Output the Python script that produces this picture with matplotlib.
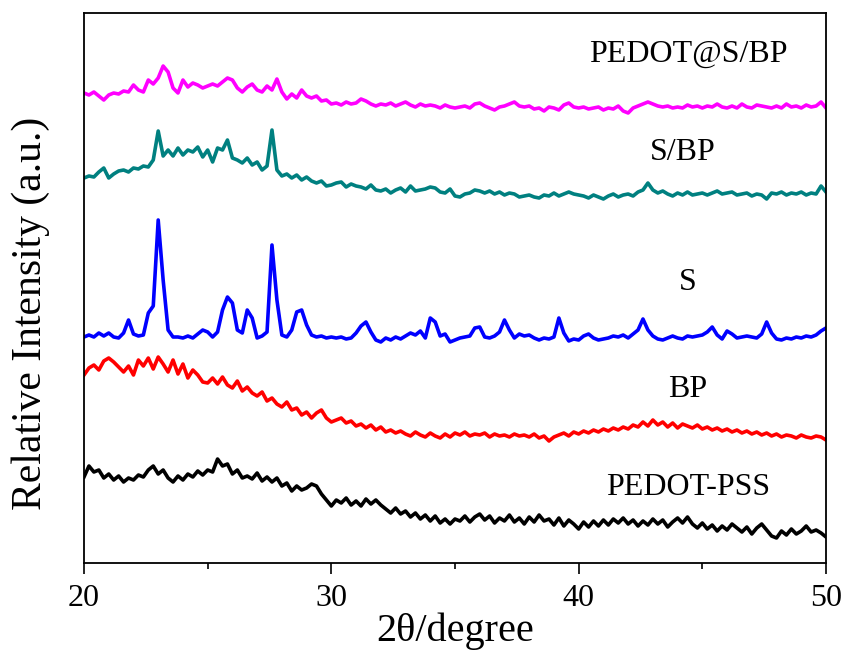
import numpy as np
import matplotlib
matplotlib.use("Agg")
import matplotlib.pyplot as plt
from matplotlib.ticker import MultipleLocator

plt.rcParams['font.family'] = ['Liberation Serif', 'DejaVu Serif']

# 2theta grid (0.2 degree step)
two_theta = np.round(np.arange(20.0, 50.001, 0.2), 1)

pedot_s_bp = [
    470, 468, 471, 467, 463, 468, 470, 469, 472, 471,
    478, 473, 471, 483, 479, 485, 497, 491, 475, 470,
    483, 476, 480, 478, 475, 477, 479, 477, 481, 485,
    483, 475, 471, 476, 479, 473, 471, 477, 473, 484,
    471, 464, 469, 465, 473, 467, 465, 467, 462, 463,
    459, 460, 458, 461, 459, 460, 464, 462, 459, 457,
    459, 458, 460, 457, 459, 461, 458, 456, 459, 457,
    458, 457, 455, 458, 456, 455, 456, 457, 455, 459,
    460, 457, 455, 453, 456, 457, 459, 461, 457, 456,
    457, 454, 455, 452, 456, 455, 453, 458, 460, 456,
    455, 456, 454, 455, 456, 453, 455, 454, 457, 452,
    450, 455, 457, 459, 461, 459, 457, 456, 457, 455,
    456, 455, 458, 456, 457, 455, 457, 456, 459, 456,
    455, 457, 455, 459, 456, 455, 458, 457, 456, 455,
    457, 455, 459, 456, 457, 455, 458, 456, 457, 461,
    455]

s_bp = [
    385, 387, 386, 391, 395, 385, 389, 392, 393, 391,
    395, 394, 397, 396, 403, 432, 407, 413, 407, 415,
    408, 413, 411, 416, 406, 413, 401, 415, 413, 423,
    405, 403, 400, 405, 398, 401, 393, 397, 433, 393,
    387, 389, 385, 388, 383, 386, 382, 380, 382, 377,
    378, 380, 381, 376, 379, 377, 376, 374, 378, 373,
    372, 374, 370, 373, 375, 371, 377, 372, 373, 374,
    376, 375, 371, 370, 374, 367, 366, 369, 370, 373,
    372, 370, 372, 369, 371, 368, 370, 369, 366, 367,
    368, 366, 365, 368, 367, 370, 367, 369, 371, 369,
    368, 367, 365, 368, 366, 364, 367, 369, 366, 368,
    369, 367, 371, 373, 380, 373, 370, 372, 369, 367,
    370, 368, 371, 368, 369, 370, 368, 370, 372, 369,
    370, 371, 368, 369, 370, 367, 369, 368, 364, 370,
    369, 371, 368, 370, 369, 371, 368, 370, 369, 377,
    371]

sulfur = [
    226, 228, 226, 230, 227, 230, 226, 225, 230, 243,
    229, 227, 228, 250, 257, 343, 283, 233, 226, 226,
    225, 227, 225, 229, 233, 231, 226, 231, 253, 266,
    260, 233, 230, 253, 245, 225, 227, 231, 318, 263,
    228, 226, 233, 251, 253, 238, 228, 226, 227, 225,
    226, 225, 226, 224, 225, 230, 237, 241, 231, 223,
    221, 225, 223, 226, 224, 227, 230, 228, 232, 225,
    245, 241, 227, 229, 221, 223, 225, 226, 227, 235,
    236, 226, 225, 227, 231, 243, 233, 225, 229, 227,
    228, 225, 223, 225, 224, 226, 245, 230, 222, 224,
    223, 227, 229, 225, 223, 224, 225, 227, 226, 228,
    225, 229, 233, 244, 233, 227, 224, 223, 225, 227,
    225, 224, 227, 226, 227, 228, 231, 236, 228, 224,
    232, 229, 225, 226, 227, 226, 225, 229, 241, 230,
    224, 223, 225, 224, 226, 225, 227, 226, 228, 232,
    235]

bp = [
    188, 195, 198, 193, 202, 205, 201, 196, 191, 197,
    188, 203, 197, 205, 194, 206, 199, 191, 203, 189,
    199, 185, 193, 188, 181, 180, 185, 179, 186, 178,
    175, 182, 172, 176, 170, 167, 171, 162, 165, 159,
    156, 161, 153, 155, 148, 151, 145, 150, 153, 145,
    141, 143, 145, 140, 142, 137, 139, 135, 138, 133,
    136, 131, 133, 130, 132, 129, 127, 131, 128, 126,
    130, 127, 125, 129, 126, 130, 128, 131, 127, 129,
    128, 130, 126, 129, 127, 128, 126, 129, 127, 128,
    126, 129, 125, 127, 122, 126, 128, 130, 127, 131,
    129, 132, 130, 133, 131, 134, 132, 135, 133, 136,
    134, 138, 136, 141, 137, 143, 138, 141, 136, 140,
    135, 139, 137, 135, 138, 134, 136, 133, 135, 132,
    134, 131, 133, 130, 132, 129, 131, 128, 130, 127,
    129, 126, 128, 127, 125, 128, 126, 125, 127, 126,
    123]

pedot_pss = [
    86, 97, 91, 93, 85, 89, 83, 87, 81, 85,
    83, 88, 86, 93, 97, 89, 93, 85, 81, 87,
    83, 89, 86, 92, 88, 93, 91, 104, 97, 99,
    89, 93, 85, 87, 84, 90, 82, 86, 81, 85,
    77, 80, 72, 77, 73, 75, 79, 77, 69, 63,
    57, 63, 60, 65, 58, 62, 57, 64, 59, 63,
    58, 54, 50, 55, 49, 52, 46, 50, 44, 48,
    42, 47, 40, 44, 39, 44, 42, 47, 41, 46,
    49, 43, 47, 40, 45, 42, 48, 41, 45, 39,
    46, 41, 48, 42, 44, 38, 45, 37, 43, 39,
    34, 41, 36, 42, 37, 43, 38, 44, 40, 45,
    39, 43, 37, 42, 38, 44, 39, 43, 36, 41,
    45, 40, 46, 39, 35, 40, 34, 38, 32, 37,
    33, 39, 35, 31, 36, 29, 35, 39, 33, 27,
    25, 32, 28, 34, 29, 32, 37, 31, 33, 30,
    26]

names = ["PEDOT@S/BP", "S/BP", "S", "BP", "PEDOT-PSS"]
colors = ["#ff00ff", "#008080", "#0000ff", "#ff0000", "#000000"]
series = [pedot_s_bp, s_bp, sulfur, bp, pedot_pss]
label_x = [44.42, 44.2, 44.42, 44.42, 44.42]
label_y = [501, 403, 273, 166, 68]

fig = plt.figure(figsize=(8.45, 6.53), dpi=100)
ax = fig.add_axes([84 / 845, 90 / 653, 742 / 845, 550 / 653])

for vals, c in zip(series, colors):
    ax.plot(two_theta, vals, color=c, lw=2.6, solid_joinstyle="round")

for name, lx, ly in zip(names, label_x, label_y):
    ax.text(lx, ly, name, fontsize=23, ha="center", va="baseline")

ax.set_xlim(20, 50)
ax.set_ylim(0, 550)
ax.xaxis.set_major_locator(MultipleLocator(10))
ax.xaxis.set_minor_locator(MultipleLocator(5))
ax.set_yticks([])
ax.tick_params(axis="x", which="major", direction="out", length=8, width=1.2,
               labelsize=23, pad=7)
ax.tick_params(axis="x", which="minor", direction="out", length=4.3, width=1.2)
for sp in ax.spines.values():
    sp.set_linewidth(1.3)

ax.set_xlabel("2θ/degree", fontsize=29)
ax.xaxis.set_label_coords(0.5, -0.09)
ax.set_ylabel("Relative Intensity (a.u.)", fontsize=30)
ax.yaxis.set_label_coords(-0.046, 0.454)

fig.savefig("out.png", dpi=100)
